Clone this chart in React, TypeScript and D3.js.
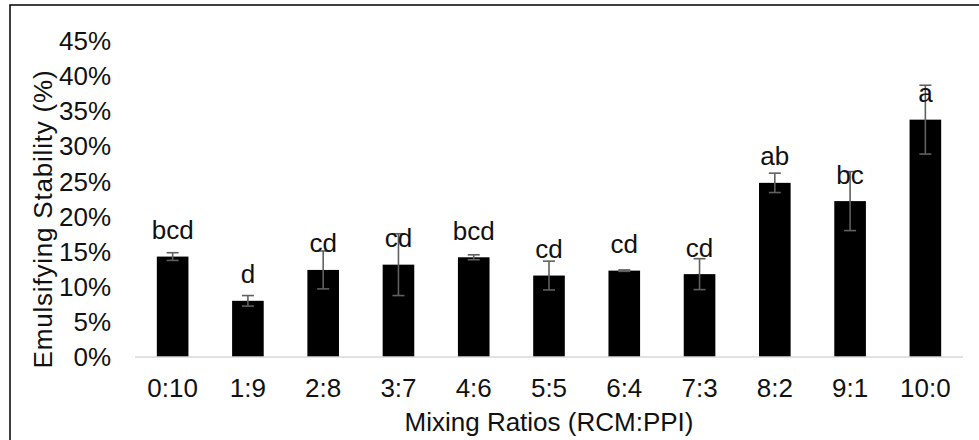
import React from "react";
import * as d3 from "d3";

// Emulsifying stability by mixing ratio (RCM:PPI)
const categories = ["0:10", "1:9", "2:8", "3:7", "4:6", "5:5", "6:4", "7:3", "8:2", "9:1", "10:0"];
const means = [14.3, 8.0, 12.4, 13.15, 14.2, 11.6, 12.3, 11.8, 24.8, 22.2, 33.8];
const errors = [0.55, 0.75, 2.7, 4.4, 0.35, 2.05, 0.1, 2.2, 1.38, 4.2, 4.9];
const letters = ["bcd", "d", "cd", "cd", "bcd", "cd", "cd", "cd", "ab", "bc", "a"];
const yTicks = [0, 5, 10, 15, 20, 25, 30, 35, 40, 45];

const W = 979;
const H = 440;
const plot = { left: 135, right: 963, top: 41, bottom: 357 };
const FONT = "'Liberation Sans', Arial, sans-serif";
const FS = 26;

export default function App() {
  const x = d3
    .scaleBand<string>()
    .domain(categories)
    .range([plot.left, plot.right])
    .paddingInner(0.58)
    .paddingOuter(0.29);
  const y = d3.scaleLinear().domain([0, 45]).range([plot.bottom, plot.top]);
  const bw = x.bandwidth();
  const cap = 6;

  return (
    <svg
      width={W}
      height={H}
      style={{ position: "absolute", left: 0, top: 0, display: "block", background: "#fff" }}
    >
      <rect x={10} y={5} width={1000} height={500} fill="#fff" stroke="#000" strokeWidth={1.5} />

      {yTicks.map((t) => (
        <text
          key={t}
          x={111}
          y={y(t)}
          dy="0.35em"
          textAnchor="end"
          fontFamily={FONT}
          fontSize={FS}
          fill="#111"
        >
          {t}%
        </text>
      ))}

      {categories.map((c, i) => {
        const cx = (x(c) ?? 0) + bw / 2;
        const top = y(means[i]);
        const eTop = y(means[i] + errors[i]);
        const eBot = y(Math.max(0, means[i] - errors[i]));
        return (
          <g key={c}>
            <rect x={x(c)} y={top} width={bw} height={plot.bottom - top} fill="#000" />
            <line x1={cx} x2={cx} y1={eTop} y2={eBot} stroke="#606060" strokeWidth={1.6} />
            <line x1={cx - cap} x2={cx + cap} y1={eTop} y2={eTop} stroke="#606060" strokeWidth={1.6} />
            <line x1={cx - cap} x2={cx + cap} y1={eBot} y2={eBot} stroke="#606060" strokeWidth={1.6} />
            <text
              x={cx}
              y={top - 17.5}
              textAnchor="middle"
              fontFamily={FONT}
              fontSize={FS}
              fill="#111"
            >
              {letters[i]}
            </text>
            <text
              x={cx}
              y={388}
              dy="0.35em"
              textAnchor="middle"
              fontFamily={FONT}
              fontSize={FS}
              fill="#111"
            >
              {c}
            </text>
          </g>
        );
      })}

      <line
        x1={plot.left}
        x2={plot.right}
        y1={plot.bottom}
        y2={plot.bottom}
        stroke="#d9d9d9"
        strokeWidth={1.5}
      />

      <text
        x={(plot.left + plot.right) / 2}
        y={422}
        dy="0.35em"
        textAnchor="middle"
        fontFamily={FONT}
        fontSize={FS}
        fill="#111"
      >
        Mixing Ratios (RCM:PPI)
      </text>
      <text
        transform={`translate(43,219) rotate(-90)`}
        dy="0.35em"
        textAnchor="middle"
        fontFamily={FONT}
        fontSize={FS}
        letterSpacing={0.8}
        fill="#111"
      >
        Emulsifying Stability (%)
      </text>
    </svg>
  );
}
